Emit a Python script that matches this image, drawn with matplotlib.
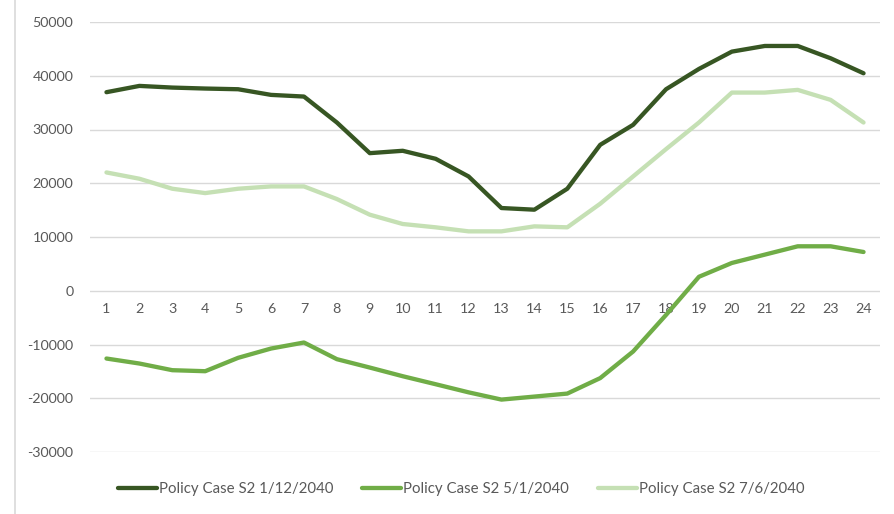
import matplotlib
matplotlib.use("Agg")
import matplotlib.pyplot as plt
from matplotlib.lines import Line2D

plt.rcParams['font.family'] = ['Lato', 'DejaVu Sans']

hours = list(range(1, 25))
series_names = ["Policy Case S2 1/12/2040", "Policy Case S2 5/1/2040", "Policy Case S2 7/6/2040"]
jan = [36940, 38110, 37800, 37620, 37490, 36440, 36130, 31300, 25600, 26040, 24550, 21270,
       15390, 15080, 18980, 27150, 30870, 37490, 41270, 44490, 45540, 45540, 43250, 40460]
may = [-12610, -13540, -14780, -14970, -12480, -10750, -9630, -12730, -14290, -15900, -17390, -18900,
       -20250, -19690, -19130, -16250, -11300, -4500, 2600, 5170, 6720, 8270, 8270, 7210]
jul = [22010, 20840, 18980, 18170, 18980, 19410, 19410, 17060, 14150, 12420, 11800, 11050,
       11050, 11980, 11800, 16190, 21270, 26350, 31300, 36870, 36870, 37370, 35510, 31300]
colors = ["#375623", "#70AD47", "#C5E0B4"]
yticks = list(range(-30000, 50001, 10000))

W, H = 894, 514
fig = plt.figure(figsize=(W / 100, H / 100), dpi=100)
ax = fig.add_axes([90 / W, 1 - 452 / H, (880 - 90) / W, (452 - 22) / H])

for vals, c, name in zip([jan, may, jul], colors, series_names):
    ax.plot(hours, vals, color=c, lw=3.1, label=name, solid_capstyle='round', solid_joinstyle='round')

ax.set_xlim(0.5, 24.5)
ax.set_ylim(-30000, 50000)
ax.set_yticks(yticks)
ax.set_yticklabels([str(v) for v in yticks])
ax.set_xticks(hours)
ax.set_xticklabels([str(h) for h in hours])
ax.grid(axis='y', color='#D9D9D9', lw=1.0)
ax.set_axisbelow(True)
for s in ax.spines.values():
    s.set_visible(False)
ax.spines['bottom'].set_position(('data', 0))
ax.tick_params(axis='both', length=0, colors='#595959', labelsize=10.3)
ax.tick_params(axis='x', pad=9)
ax.tick_params(axis='y', pad=12)

fig.legend(loc='center', bbox_to_anchor=(461 / W, 1 - 489 / H), ncol=3, frameon=False,
           fontsize=10.8, handlelength=2.6, handletextpad=0.15, columnspacing=1.9,
           labelcolor='#595959')

fig.add_artist(Line2D([15 / W, 15 / W], [0, 1], color='#D9D9D9', lw=1.2, transform=fig.transFigure))

fig.savefig("out.png", dpi=100)
